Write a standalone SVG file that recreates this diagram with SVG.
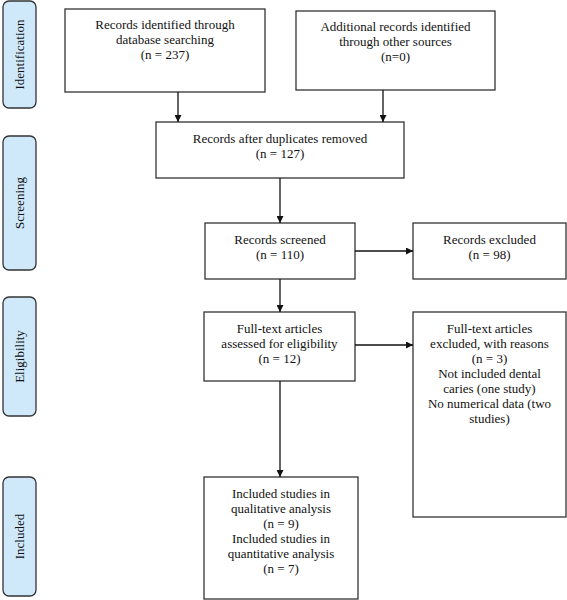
<svg xmlns="http://www.w3.org/2000/svg" width="567" height="600" viewBox="0 0 567 600">
<style>
.box{fill:#fff;stroke:#333;stroke-width:1.3}
.side{fill:#cfe9fb;stroke:#333;stroke-width:1.3}
text{font-family:"Liberation Serif","Times New Roman",serif;font-size:13px;fill:#111;text-anchor:middle}
.conn line{stroke:#111;stroke-width:1.3}
</style>
<defs>
<marker id="ah" viewBox="0 0 10 10" refX="10" refY="5" markerWidth="7" markerHeight="7" markerUnits="userSpaceOnUse" orient="auto">
<path d="M0,0 L10,5 L0,10 Z" fill="#111"/>
</marker>
</defs>
<g id="side-identification"><rect class="side" x="3" y="1" width="33" height="107" rx="6"/><text transform="translate(24,54.5) rotate(-90)">Identification</text></g>
<g id="side-screening"><rect class="side" x="3" y="136" width="33" height="134" rx="6"/><text transform="translate(24,203) rotate(-90)">Screening</text></g>
<g id="side-eligibility"><rect class="side" x="3" y="297" width="33" height="119" rx="6"/><text transform="translate(24,356.5) rotate(-90)">Eligibility</text></g>
<g id="side-included"><rect class="side" x="3" y="477" width="33" height="119" rx="6"/><text transform="translate(24,536.5) rotate(-90)">Included</text></g>

<g id="n1"><rect class="box" x="65" y="9" width="200" height="83"/>
<text x="165" y="29">Records identified through</text><text x="165" y="44">database searching</text><text x="165" y="59">(n = 237)</text></g>
<g id="n2"><rect class="box" x="296" y="11" width="199" height="79"/>
<text x="395.5" y="31">Additional records identified</text><text x="395.5" y="46">through other sources</text><text x="395.5" y="61">(n=0)</text></g>
<g id="n3"><rect class="box" x="156" y="122" width="248" height="56"/>
<text x="280" y="143">Records after duplicates removed</text><text x="280" y="158">(n = 127)</text></g>
<g id="n4"><rect class="box" x="205" y="223" width="150" height="56"/>
<text x="280" y="244">Records screened</text><text x="280" y="259">(n = 110)</text></g>
<g id="n5"><rect class="box" x="413" y="223" width="153" height="56"/>
<text x="489.5" y="244">Records excluded</text><text x="489.5" y="259">(n = 98)</text></g>
<g id="n6"><rect class="box" x="204" y="312" width="151" height="69"/>
<text x="279.5" y="333">Full-text articles</text><text x="279.5" y="348">assessed for eligibility</text><text x="279.5" y="363">(n = 12)</text></g>
<g id="n7"><rect class="box" x="413" y="312" width="153" height="205"/>
<text x="489.5" y="333">Full-text articles</text><text x="489.5" y="348">excluded, with reasons</text><text x="489.5" y="363">(n = 3)</text><text x="489.5" y="378">Not included dental</text><text x="489.5" y="393">caries (one study)</text><text x="489.5" y="408">No numerical data (two</text><text x="489.5" y="423">studies)</text></g>
<g id="n8"><rect class="box" x="204" y="477" width="154" height="122"/>
<text x="281" y="498">Included studies in</text><text x="281" y="513">qualitative analysis</text><text x="281" y="528">(n = 9)</text><text x="281" y="543">Included studies in</text><text x="281" y="558">quantitative analysis</text><text x="281" y="573">(n = 7)</text></g>

<g id="connectors" class="conn">
<line x1="178" y1="92" x2="178" y2="122" marker-end="url(#ah)"/>
<line x1="383" y1="90" x2="383" y2="122" marker-end="url(#ah)"/>
<line x1="280" y1="178" x2="280" y2="223" marker-end="url(#ah)"/>
<line x1="355" y1="251" x2="413" y2="251" marker-end="url(#ah)"/>
<line x1="280" y1="279" x2="280" y2="312" marker-end="url(#ah)"/>
<line x1="355" y1="345" x2="413" y2="345" marker-end="url(#ah)"/>
<line x1="280" y1="381" x2="280" y2="477" marker-end="url(#ah)"/>
</g>
</svg>
